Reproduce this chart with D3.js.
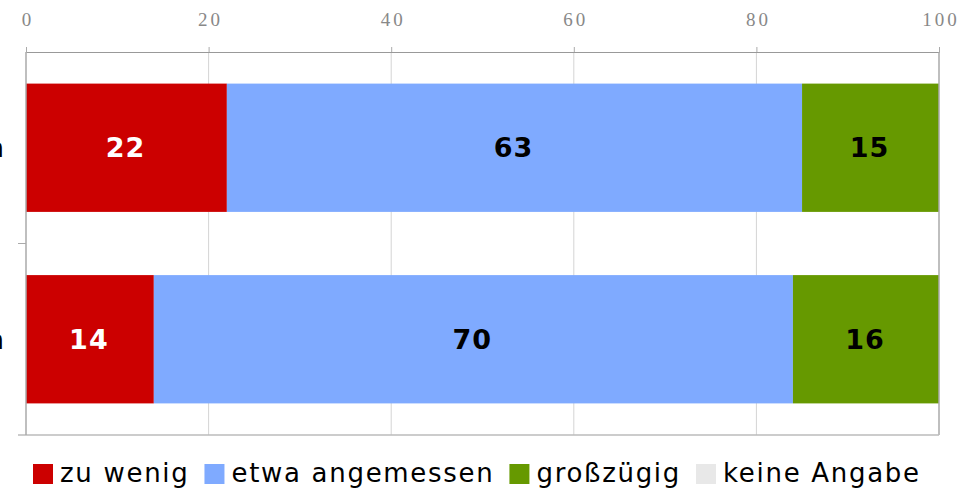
<!DOCTYPE html>
<html>
<head>
<meta charset="utf-8">
<script src="https://cdn.jsdelivr.net/npm/d3@7"></script>
<style>
  body { margin: 0; background: #fff; }
  svg { display: block; }
</style>
</head>
<body>
<div id="chart"></div>
<script>
// data
let categories = ["Frauen", "Männern"]
let seriesNames = ["zu wenig", "etwa angemessen", "großzügig", "keine Angabe"]
let zuWenig = [22, 14]
let etwaAngemessen = [63, 70]
let grosszuegig = [15, 16]
let keineAngabe = [0, 0]
let tickValues = [0, 20, 40, 60, 80, 100]
let colors = ["#cc0000", "#7faaff", "#669900", "#e8e8e8"]

let width = 965, height = 488
let margin = {top: 52, right: 26, bottom: 53, left: 26}

let svg = d3.select("#chart").append("svg")
    .attr("width", width)
    .attr("height", height)

let x = d3.scaleLinear()
    .domain([0, 100])
    .range([margin.left, width - margin.right])

let y = d3.scaleBand()
    .domain(categories)
    .range([margin.top, height - margin.bottom])
    .paddingInner(0.33)
    .paddingOuter(0.165)

// gridlines
svg.append("g")
    .selectAll("line")
    .data(tickValues.slice(1, -1))
    .join("line")
    .attr("x1", d => x(d)).attr("x2", d => x(d))
    .attr("y1", margin.top).attr("y2", height - margin.bottom)
    .attr("stroke", "#d4d4d4")

// stacked bars
let rows = categories.map((c, i) => ({
    cat: c,
    "zu wenig": zuWenig[i],
    "etwa angemessen": etwaAngemessen[i],
    "großzügig": grosszuegig[i],
    "keine Angabe": keineAngabe[i]
}))
let stack = d3.stack().keys(seriesNames)(rows)
let color = d3.scaleOrdinal().domain(seriesNames).range(colors)

let layers = svg.append("g")
    .selectAll("g")
    .data(stack)
    .join("g")
    .attr("fill", d => color(d.key))

layers.selectAll("rect")
    .data(d => d)
    .join("rect")
    .attr("x", d => x(d[0]))
    .attr("y", d => y(d.data.cat))
    .attr("width", d => x(d[1]) - x(d[0]))
    .attr("height", y.bandwidth())

// value labels
stack.forEach((layer, li) => {
    svg.append("g")
        .selectAll("text")
        .data(layer.filter(d => d[1] - d[0] > 0))
        .join("text")
        .attr("x", d => (x(d[0]) + x(d[1])) / 2 - 1)
        .attr("y", d => y(d.data.cat) + y.bandwidth() / 2)
        .attr("dy", "0.36em")
        .attr("text-anchor", "middle")
        .style("font-family", "DejaVu Sans")
        .style("font-weight", "bold")
        .style("font-size", "27px")
        .style("letter-spacing", "1px")
        .attr("fill", li === 0 ? "#fff" : "#000")
        .text(d => d[1] - d[0])
})

// top axis
let topAxis = svg.append("g")
    .attr("transform", `translate(0,${margin.top})`)
    .call(d3.axisTop(x).tickValues(tickValues).tickSize(5).tickPadding(21))
topAxis.select(".domain").attr("stroke", "#999")
topAxis.selectAll(".tick line").attr("stroke", "#aaa")
topAxis.selectAll(".tick text")
    .attr("dx", 1.5)
    .style("font-family", "Liberation Serif")
    .style("font-size", "19px")
    .style("letter-spacing", "3px")
    .attr("fill", "#888")

// right and bottom frame
svg.append("line")
    .attr("x1", x(100)).attr("x2", x(100))
    .attr("y1", margin.top).attr("y2", height - margin.bottom)
    .attr("stroke", "#aaa").attr("stroke-width", 1.5)
svg.append("line")
    .attr("x1", margin.left - 8).attr("x2", x(100))
    .attr("y1", height - margin.bottom).attr("y2", height - margin.bottom)
    .attr("stroke", "#bbb").attr("stroke-width", 1.5)

// left axis
let leftAxis = svg.append("g")
    .attr("transform", `translate(${margin.left},0)`)
leftAxis.append("line")
    .attr("y1", margin.top).attr("y2", height - margin.bottom)
    .attr("stroke", "#aaa").attr("stroke-width", 1.5)
let midY = (y(categories[0]) + y.bandwidth() + y(categories[1])) / 2
leftAxis.append("line")
    .attr("x1", -8).attr("x2", 0)
    .attr("y1", midY).attr("y2", midY)
    .attr("stroke", "#aaa")
leftAxis.selectAll("text")
    .data(categories)
    .join("text")
    .attr("x", -22)
    .attr("y", d => y(d) + y.bandwidth() / 2)
    .attr("dy", "0.36em")
    .attr("text-anchor", "end")
    .style("font-family", "DejaVu Sans")
    .style("font-size", "26px")
    .text(d => d)

// legend
let legend = svg.append("g").attr("transform", "translate(33,0)")
let lx = 0
seriesNames.forEach((name, i) => {
    let g = legend.append("g").attr("transform", `translate(${lx},0)`)
    g.append("rect")
        .attr("x", 0).attr("y", 464)
        .attr("width", 20).attr("height", 20)
        .attr("fill", colors[i])
    let t = g.append("text")
        .attr("x", 27).attr("y", 482)
        .style("font-family", "DejaVu Sans")
        .style("font-size", "26px")
        .style("letter-spacing", "1.7px")
        .text(name)
    lx += 27 + t.node().getComputedTextLength() + 15
})
</script>
</body>
</html>
